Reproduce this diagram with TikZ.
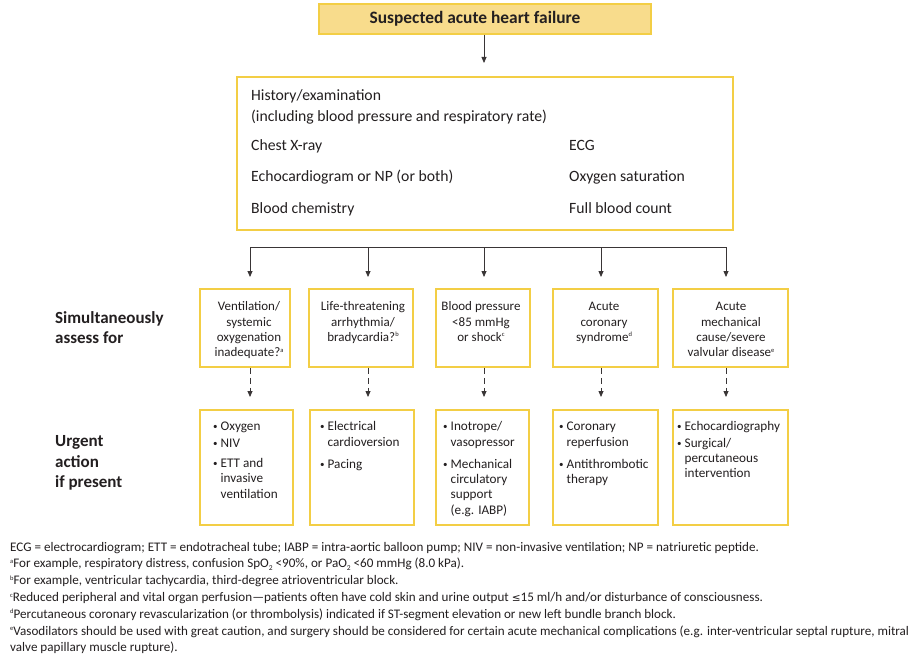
\documentclass[tikz,border=0pt]{standalone}
\usepackage{fontspec}
\setmainfont{Carlito}
\newfontfamily\symf{DejaVu Sans}
\usetikzlibrary{arrows.meta}
\definecolor{ybord}{HTML}{F3CE45}
\definecolor{yfill}{HTML}{F8DC8C}
\definecolor{ink}{HTML}{231F20}
\newcommand\fnm[1]{\raisebox{0.7ex}{\fontsize{6.5}{6.5}\selectfont #1}}
\newcommand\subtwo{\raisebox{-0.4ex}{\fontsize{7.5}{7.5}\selectfont 2}}
\newcommand\bul{\raisebox{0.15ex}{\fontsize{9}{9}\selectfont\textbullet}}
\begin{document}
\begin{tikzpicture}[x=1pt,y=-1pt,
  every node/.style={text=ink, inner sep=0pt},
  ybox/.style={draw=ybord, line width=1.8pt, fill=white, anchor=north west, inner sep=0pt},
  arr/.style={draw=ink!90, line width=0.8pt, -{Triangle[length=6pt,width=5pt]}},
  dasharr/.style={arr, dash pattern=on 6pt off 4pt},
  maintext/.style={anchor=base west, font=\fontsize{15.7}{18}\selectfont},
  asstext/.style={anchor=base, font=\fontsize{13}{15.3}\selectfont},
  acttext/.style={anchor=base west, font=\fontsize{13.2}{15.3}\selectfont},
  foot/.style={anchor=base west, font=\fontsize{13.1}{15}\selectfont},
  side/.style={anchor=base west, font=\bfseries\fontsize{17}{19}\selectfont}]
\useasboundingbox (0,0) rectangle (915,658);
\fill[white] (0,0) rectangle (915,658);

% title
\node[ybox, fill=yfill, minimum width=332pt, minimum height=30pt] (top) at (318,3) {};
\node[anchor=base, font=\bfseries\fontsize{17.4}{20}\selectfont] (toptxt) at (475,24) {Suspected acute heart failure};

% main box
\node[ybox, minimum width=496pt, minimum height=153pt] (main) at (236,76) {};
\node[maintext] (m1) at (251,101) {History/examination};
\node[maintext] (m2) at (251,121.7) {(including blood pressure and respiratory rate)};
\node[maintext] (m3) at (251,150.7) {Chest X-ray};
\node[maintext] (m4) at (251,181.7) {Echocardiogram or NP (or both)};
\node[maintext] (m5) at (251,213.3) {Blood chemistry};
\node[maintext] (m6) at (569,150.7) {ECG};
\node[maintext] (m7) at (569,181.7) {Oxygen saturation};
\node[maintext] (m8) at (569,213.3) {Full blood count};

\draw[arr, shorten >=13pt] (top.south -| 484,0) -- (main.north -| 484,0);

% assess boxes
\node[ybox, minimum width=90pt,  minimum height=78pt] (a1) at (199,288) {};
\node[ybox, minimum width=104pt, minimum height=78pt] (a2) at (308,288) {};
\node[ybox, minimum width=94pt,  minimum height=78pt] (a3) at (435,288) {};
\node[ybox, minimum width=105pt, minimum height=78pt] (a4) at (552,288) {};
\node[ybox, minimum width=115pt, minimum height=78pt] (a5) at (672,288) {};

\node[asstext] (at1) at (249,310.7) {\begin{tabular}[t]{@{}c@{}}Ventilation/\\systemic\\oxygenation\\inadequate?\fnm{a}\end{tabular}};
\node[asstext] (at2) at (363,310.7) {\begin{tabular}[t]{@{}c@{}}Life-threatening\\arrhythmia/\\bradycardia?\fnm{b}\end{tabular}};
\node[asstext] (at3) at (481,310.7) {\begin{tabular}[t]{@{}c@{}}Blood pressure\\<85 mmHg\\or shock\fnm{c}\end{tabular}};
\node[asstext] (at4) at (604,310.7) {\begin{tabular}[t]{@{}c@{}}Acute\\coronary\\syndrome\fnm{d}\end{tabular}};
\node[asstext] (at5) at (731,310.7) {\begin{tabular}[t]{@{}c@{}}Acute\\mechanical\\cause/severe\\valvular disease\fnm{e}\end{tabular}};

% bus
\coordinate (b1) at (250,247);
\coordinate (b2) at (368,247);
\coordinate (b3) at (484,247);
\coordinate (b4) at (601,247);
\coordinate (b5) at (726,247);
\draw[draw=ink!90, line width=0.8pt] (b1) -- (b5);
\draw[arr, shorten >=11pt] (b1) -- (b1 |- a1.north);
\draw[arr, shorten >=11pt] (b2) -- (b2 |- a2.north);
\draw[arr, shorten >=11pt] (b3) -- (b3 |- a3.north);
\draw[arr, shorten >=11pt] (b4) -- (b4 |- a4.north);
\draw[arr, shorten >=11pt] (b5) -- (b5 |- a5.north);

% action boxes
\node[ybox, minimum width=93pt,  minimum height=115pt] (u1) at (199,409) {};
\node[ybox, minimum width=104pt, minimum height=115pt] (u2) at (309,409) {};
\node[ybox, minimum width=93pt,  minimum height=115pt] (u3) at (435,409) {};
\node[ybox, minimum width=105pt, minimum height=115pt] (u4) at (552,409) {};
\node[ybox, minimum width=115pt, minimum height=115pt] (u5) at (672,409) {};

\draw[dasharr, shorten >=12pt] (b1 |- a1.south) -- (b1 |- u1.north);
\draw[dasharr, shorten >=12pt] (b2 |- a2.south) -- (b2 |- u2.north);
\draw[dasharr, shorten >=12pt] (b3 |- a3.south) -- (b3 |- u3.north);
\draw[dasharr, shorten >=12pt] (b4 |- a4.south) -- (b4 |- u4.north);
\draw[dasharr, shorten >=12pt] (b5 |- a5.south) -- (b5 |- u5.north);

\node[acttext] (ut1) at (213,430.7) {\begin{tabular}[t]{@{}l@{\hspace{3pt}}l@{}}\bul & Oxygen\\[1.4pt]\bul & NIV\\[4.7pt]\bul & ETT and\\ & invasive\\ & ventilation\end{tabular}};
\node[acttext] (ut2) at (320,430.7) {\begin{tabular}[t]{@{}l@{\hspace{3pt}}l@{}}\bul & Electrical\\ & cardioversion\\[7pt]\bul & Pacing\end{tabular}};
\node[acttext] (ut3) at (443,430.7) {\begin{tabular}[t]{@{}l@{\hspace{3pt}}l@{}}\bul & Inotrope/\\ & vasopressor\\[7pt]\bul & Mechanical\\ & circulatory\\ & support\\ & (e.g. IABP)\end{tabular}};
\node[acttext] (ut4) at (559,430.7) {\begin{tabular}[t]{@{}l@{\hspace{3pt}}l@{}}\bul & Coronary\\ & reperfusion\\[7pt]\bul & Antithrombotic\\ & therapy\end{tabular}};
\node[acttext] (ut5) at (677,430.7) {\begin{tabular}[t]{@{}l@{\hspace{3pt}}l@{}}\bul & Echocardiography\\[1pt]\bul & Surgical/\\ & percutaneous\\ & intervention\end{tabular}};

% side labels
\node[side] (s1) at (55,323.3) {Simultaneously};
\node[side] (s2) at (55,343.3) {assess for};
\node[side] (s3) at (55,446.7) {Urgent};
\node[side] (s4) at (55,467.3) {action};
\node[side] (s5) at (55,487.7) {if present};

% footnotes
\node[foot] (f0) at (10,551) {ECG = electrocardiogram; ETT = endotracheal tube; IABP = intra-aortic balloon pump; NIV = non-invasive ventilation; NP = natriuretic peptide.};
\node[foot] (f1) at (10,567.7) {\fnm{a}For example, respiratory distress, confusion SpO\subtwo{} <90\%, or PaO\subtwo{} <60 mmHg (8.0 kPa).};
\node[foot] (f2) at (10,584.7) {\fnm{b}For example, ventricular tachycardia, third-degree atrioventricular block.};
\node[foot] (f3) at (10,601.5) {\fnm{c}Reduced peripheral and vital organ perfusion---patients often have cold skin and urine output {\symf\fontsize{10.5}{12}\selectfont ≤}15 ml/h and/or disturbance of consciousness.};
\node[foot] (f4) at (10,618) {\fnm{d}Percutaneous coronary revascularization (or thrombolysis) indicated if ST-segment elevation or new left bundle branch block.};
\node[foot] (f5) at (10,635) {\fnm{e}Vasodilators should be used with great caution, and surgery should be considered for certain acute mechanical complications (e.g. inter-ventricular septal rupture, mitral};
\node[foot] (f6) at (10,651.7) {valve papillary muscle rupture).};
\end{tikzpicture}
\end{document}
